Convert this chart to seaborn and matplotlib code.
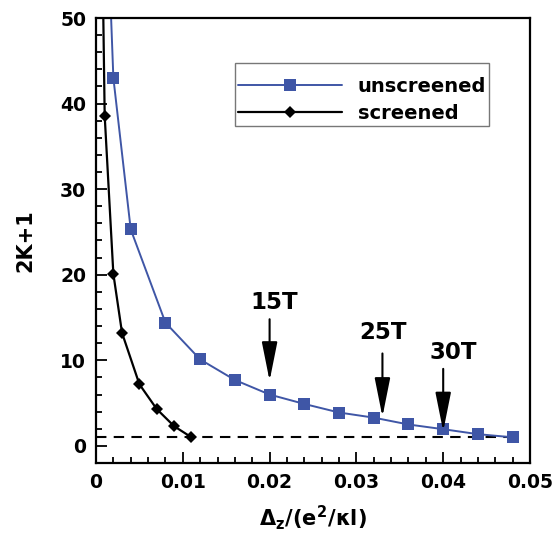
import matplotlib
matplotlib.use("Agg")
import matplotlib.pyplot as plt
from matplotlib.ticker import MultipleLocator, FuncFormatter
import seaborn as sns
import pandas as pd

# Zeeman-gap dependence of skyrmion size
unscreened_x = [0.001, 0.002, 0.004, 0.008, 0.012, 0.016, 0.020, 0.024,
                0.028, 0.032, 0.036, 0.040, 0.044, 0.048]
unscreened_y = [70.0, 43.0, 25.3, 14.4, 10.1, 7.7, 6.0, 4.9,
                3.9, 3.3, 2.5, 1.95, 1.37, 1.0]
screened_x = [0.0005, 0.001, 0.002, 0.003, 0.005, 0.007, 0.009, 0.011]
screened_y = [75.0, 38.6, 20.1, 13.2, 7.2, 4.3, 2.3, 1.0]

# magnetic-field markers
field_labels = ["15T", "25T", "30T"]
field_x = [0.020, 0.033, 0.040]
arrow_tail = [14.8, 10.8, 9.0]
arrow_tip = [7.6, 3.4, 1.7]
label_x = [0.0205, 0.0331, 0.0412]
label_y = [16.7, 13.3, 10.9]

sns.set_theme(style="white")
plt.rcParams["font.family"] = ["DejaVu Sans"]
plt.rcParams["font.weight"] = "bold"
plt.rcParams["text.color"] = "black"
plt.rcParams["axes.labelcolor"] = "black"
plt.rcParams["xtick.color"] = "black"
plt.rcParams["ytick.color"] = "black"
plt.rcParams["mathtext.fontset"] = "custom"
plt.rcParams["mathtext.rm"] = "DejaVu Sans:bold"
plt.rcParams["mathtext.it"] = "DejaVu Sans:bold"
plt.rcParams["mathtext.bf"] = "DejaVu Sans:bold"

blue = "#3f56a6"

df_u = pd.DataFrame({"x": unscreened_x, "y": unscreened_y})
df_s = pd.DataFrame({"x": screened_x, "y": screened_y})

fig = plt.figure(figsize=(5.54, 5.34), dpi=100)
ax = fig.add_axes([96 / 554, 1 - 463 / 534, 434 / 554, 445 / 534])

sns.lineplot(data=df_u, x="x", y="y", ax=ax, color=blue, lw=1.4,
             marker="s", markersize=8, markeredgewidth=0,
             markerfacecolor=blue, label="unscreened")
sns.lineplot(data=df_s, x="x", y="y", ax=ax, color="black", lw=1.6,
             marker="D", markersize=6.4, markeredgewidth=0,
             markerfacecolor="black", label="screened")

ax.hlines(1, 0, 0.048, colors="black", linestyles=(0, (5, 3.5)), lw=1.5,
          zorder=1)

for txt, fx, yt, yh, tx, ty in zip(field_labels, field_x, arrow_tail,
                                   arrow_tip, label_x, label_y):
    ax.annotate("", xy=(fx, yh), xytext=(fx, yt),
                arrowprops=dict(arrowstyle="-|>,head_length=2.0,head_width=0.4",
                                color="black", lw=1.5, shrinkA=0, shrinkB=0))
    ax.text(tx, ty, txt, ha="center", va="center", fontsize=16.5,
            fontweight="bold", color="black")

ax.set_xlim(0, 0.05)
ax.set_ylim(-2, 50)
ax.xaxis.set_major_locator(MultipleLocator(0.01))
ax.xaxis.set_minor_locator(MultipleLocator(0.002))
ax.yaxis.set_major_locator(MultipleLocator(10))
ax.yaxis.set_minor_locator(MultipleLocator(2))
ax.xaxis.set_major_formatter(FuncFormatter(
    lambda v, p: "0" if abs(v) < 1e-12 else f"{v:.2f}"))

ax.tick_params(which="both", direction="in", top=False, right=False,
               bottom=True, left=True, width=1.3, color="black",
               labelcolor="black")
ax.tick_params(which="major", length=8, labelsize=13.5, pad=7)
ax.tick_params(which="minor", length=4.5)
for lab in ax.get_xticklabels() + ax.get_yticklabels():
    lab.set_fontweight("bold")

for sp in ax.spines.values():
    sp.set_color("black")
    sp.set_linewidth(1.6)

ax.set_xlabel(r"$\Delta_z/(e^2/\kappa l)$", fontsize=15, labelpad=8,
              color="black")
ax.set_ylabel("2K+1", fontsize=15, fontweight="bold", labelpad=18,
              color="black")

leg = ax.legend(loc="upper right", bbox_to_anchor=(0.906, 0.899),
                borderaxespad=0, fontsize=14, frameon=True, fancybox=False,
                handlelength=5.35, handletextpad=0.8, labelspacing=0.38,
                borderpad=0.15, numpoints=1, title=" ", title_fontsize=3)
leg.get_frame().set_edgecolor("#555555")
leg.get_frame().set_linewidth(1.0)
for t in leg.get_texts():
    t.set_fontweight("bold")
    t.set_color("black")

fig.savefig("out.png", dpi=100)
